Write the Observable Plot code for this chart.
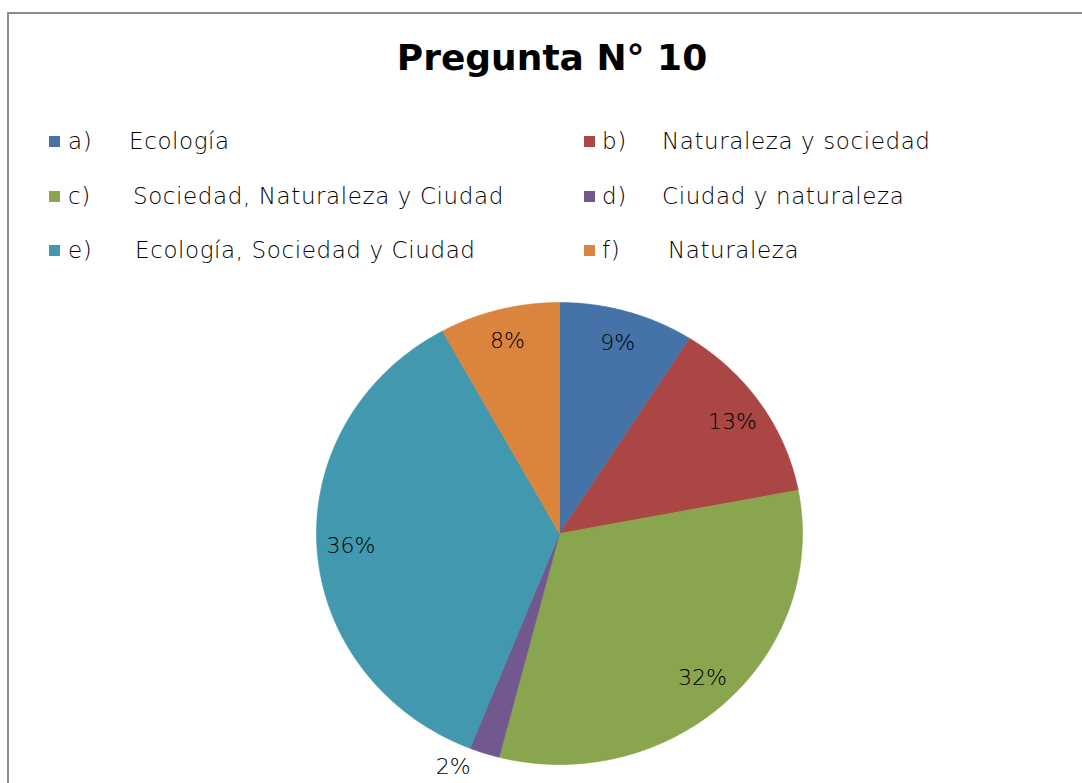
<!DOCTYPE html>
<html>
<head>
<meta charset="utf-8">
<script src="https://cdn.jsdelivr.net/npm/d3@7"></script>
<script src="https://cdn.jsdelivr.net/npm/@observablehq/plot@0.6"></script>
<style>
  html, body { margin: 0; padding: 0; background: #fff; }
  #wrap { position: relative; width: 1082px; height: 783px; overflow: hidden; }
  #frame { position: absolute; left: 7px; top: 12px; width: 1100px; height: 800px;
           border-left: 2px solid #8c8c8c; border-top: 2px solid #8c8c8c; }
  #title { position: absolute; left: 0; width: 1104px; top: 37px; text-align: center;
           font-family: "DejaVu Sans", sans-serif; font-weight: bold; font-size: 36px; color: #000; }
  .leg { position: absolute; font-family: "DejaVu Sans", sans-serif; font-weight: 200;
         font-size: 23px; letter-spacing: 0.6px; color: #000; white-space: nowrap; line-height: 26px; }
  .sw { position: absolute; width: 11px; height: 11px; }
  #chart { position: absolute; left: 0; top: 0; }
</style>
</head>
<body>
<div id="wrap">
  <div id="frame"></div>
  <div id="title">Pregunta N° 10</div>
  <div id="legend"></div>
  <div id="chart"></div>
</div>
<script>
const letters = ["a)", "b)", "c)", "d)", "e)", "f)"];
const categories = ["Ecología", "Naturaleza y sociedad", "Sociedad, Naturaleza y Ciudad", "Ciudad y naturaleza", "Ecología, Sociedad y Ciudad", "Naturaleza"];
const values = [9, 13, 32, 2, 36, 8];
const labels = ["9%", "13%", "32%", "2%", "36%", "8%"];
const colors = ["#4572A7", "#AA4643", "#89A54E", "#71588F", "#4198AF", "#DB843D"];

// Legend (two columns, three rows)
const legend = document.getElementById("legend");
const colX = [{sw: 49, let: 68, txt: [129, 133, 135]}, {sw: 584, let: 602, txt: [662, 662, 668]}];
const rowY = [142, 197, 251];
categories.forEach((c, i) => {
  const col = colX[i % 2], row = Math.floor(i / 2);
  const sw = document.createElement("div");
  sw.className = "sw"; sw.style.background = colors[i];
  sw.style.left = col.sw + "px"; sw.style.top = (rowY[row] - 6) + "px";
  legend.appendChild(sw);
  const l = document.createElement("div");
  l.className = "leg"; l.textContent = letters[i];
  l.style.left = col.let + "px"; l.style.top = (rowY[row] - 14) + "px";
  legend.appendChild(l);
  const t = document.createElement("div");
  t.className = "leg"; t.textContent = c;
  t.style.left = col.txt[row] + "px"; t.style.top = (rowY[row] - 14) + "px";
  legend.appendChild(t);
});

// Pie geometry in unit space (clockwise from 12 o'clock)
const total = d3.sum(values);
const polys = [];
const textPts = [];
let acc = 0;
values.forEach((v, i) => {
  const a0 = acc / total * 2 * Math.PI;
  acc += v;
  const a1 = acc / total * 2 * Math.PI;
  polys.push({x: 0, y: 0, k: categories[i]});
  const n = Math.max(4, Math.ceil(v * 6));
  for (let j = 0; j <= n; j++) {
    const a = a0 + (a1 - a0) * j / n;
    polys.push({x: Math.sin(a), y: Math.cos(a), k: categories[i]});
  }
  polys.push({x: 0, y: 0, k: categories[i]});
  const am = (a0 + a1) / 2;
  const small = v / total < 0.05;
  const r = small ? 1.07 : 0.86;
  textPts.push({x: Math.sin(am) * r, y: Math.cos(am) * r, label: labels[i], small});
});

const textFont = {fontSize: 22, fontFamily: "'DejaVu Sans', sans-serif", fontWeight: 200, fill: "#000"};
const plot = Plot.plot({
  width: 1082,
  height: 783,
  margin: 0,
  x: {domain: [-1, 1], range: [316, 802], axis: null},
  y: {domain: [-1, 1], range: [764, 302], axis: null},
  color: {domain: categories, range: colors},
  style: {background: "transparent", overflow: "visible"},
  marks: [
    Plot.line(polys, {x: "x", y: "y", z: "k", fill: "k", stroke: "k", strokeWidth: 0.6, curve: "linear"}),
    Plot.text(textPts.filter(d => !d.small), {x: "x", y: "y", text: "label", ...textFont}),
    Plot.text(textPts.filter(d => d.small), {x: "x", y: "y", text: "label", dx: -26, dy: -2, ...textFont})
  ]
});
document.getElementById("chart").appendChild(plot);
</script>
</body>
</html>
